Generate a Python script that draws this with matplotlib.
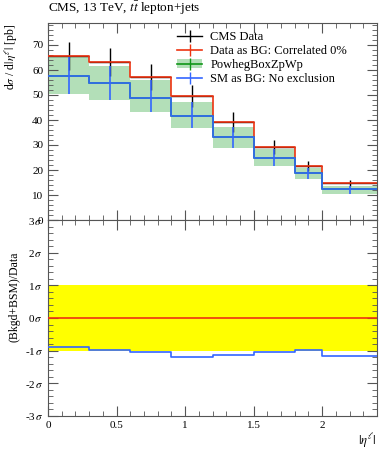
import numpy as np
import matplotlib
matplotlib.use("Agg")
import matplotlib.pyplot as plt
from matplotlib.ticker import MultipleLocator
from matplotlib.lines import Line2D
from matplotlib.patches import Patch

plt.rcParams['font.family'] = ['Liberation Serif', 'DejaVu Serif']
plt.rcParams['mathtext.fontset'] = 'stix'

# bin edges in |eta^l|
edges = [0.0, 0.3, 0.6, 0.9, 1.2, 1.5, 1.8, 2.0, 2.4]
# CMS data (= Data as BG)
data_vals = [65.6, 63.2, 57.2, 49.6, 39.2, 29.2, 21.6, 14.8]
data_errs = [5.6, 5.6, 5.2, 4.4, 4.0, 2.8, 2.0, 1.2]
# SM as BG / PowhegBoxZpWp central values and band
sm_vals = [57.6, 54.8, 48.8, 41.6, 33.2, 24.8, 18.8, 12.4]
band_hi = [65.2, 61.6, 56.0, 47.2, 37.2, 28.4, 20.8, 13.6]
band_lo = [50.4, 48.0, 43.2, 36.8, 28.8, 21.6, 16.4, 10.4]
# ratio panel (significance)
sig_sm = [-0.88, -0.98, -1.03, -1.18, -1.14, -1.03, -0.98, -1.15]
sig_data = [0, 0, 0, 0, 0, 0, 0, 0]
# tick labels
x_tick_vals = [0, 0.5, 1, 1.5, 2]
x_tick_labels = ['0', '0.5', '1', '1.5', '2']
sig_ticks = [-3, -2, -1, 0, 1, 2, 3]

edges = np.array(edges)
centers = 0.5 * (edges[1:] + edges[:-1])
halfw = 0.5 * (edges[1:] - edges[:-1])

def step(v):
    v = np.asarray(v, float)
    return np.append(v, v[-1])

RED = '#EE3311'
BLUE = '#3366FF'
GREEN = '#109618'
BAND = '#b3dfb8'

fig = plt.figure(figsize=(3.89, 4.5), dpi=100)
ax1 = fig.add_axes([48/389, 1-220/450, 329/389, 197/450])
ax2 = fig.add_axes([48/389, 1-416/450, 329/389, 196/450])

# top panel
ax1.fill_between(edges, step(band_lo), step(band_hi), step='post', color=BAND, lw=0, zorder=1)
ax1.errorbar(centers, data_vals, yerr=data_errs, xerr=halfw, fmt='none', ecolor='black', elinewidth=1.0, zorder=2)
ax1.step(edges, step(data_vals), where='post', color=RED, lw=1.2, zorder=3)
ax1.step(edges, step(sm_vals), where='post', color=GREEN, lw=1.2, zorder=3)
ax1.step(edges, step(sm_vals), where='post', color=BLUE, lw=1.2, zorder=4)
ax1.errorbar(centers, sm_vals, yerr=[np.array(sm_vals)-np.array(band_lo), np.array(band_hi)-np.array(sm_vals)],
             fmt='none', ecolor=BLUE, elinewidth=1.2, zorder=4)
ax1.set_xlim(0, 2.4)
ax1.set_ylim(0, 78.8)
ax1.yaxis.set_major_locator(MultipleLocator(10))
ax1.yaxis.set_minor_locator(MultipleLocator(2))
ax1.xaxis.set_major_locator(MultipleLocator(0.5))
ax1.xaxis.set_minor_locator(MultipleLocator(0.1))
ax1.set_xticklabels([])
ax1.set_ylabel(r'd$\sigma$ / d$|\eta^{\ell}|$ [pb]', fontsize=8.5, loc='top')
ax1.yaxis.set_label_coords(-0.085, 1.0)
ax1.text(0.0, 1.03, r'CMS, 13 TeV, $t\bar{t}$ lepton+jets', transform=ax1.transAxes, fontsize=9.5, ha='left', va='bottom')

handles = [
    Line2D([0], [0], color='black', lw=1.0, marker='|', markersize=9, markeredgewidth=1.0),
    Line2D([0], [0], color=RED, lw=1.2, marker='|', markersize=9, markeredgewidth=1.0),
    (Patch(color=BAND, lw=0), Line2D([0], [0], color=GREEN, lw=1.2, marker='|', markersize=9, markeredgewidth=1.0)),
    Line2D([0], [0], color=BLUE, lw=1.2, marker='|', markersize=9, markeredgewidth=1.0),
]
labels = ['CMS Data', 'Data as BG: Correlated 0%', 'PowhegBoxZpWp', 'SM as BG: No exclusion']
ax1.legend(handles, labels, loc='upper left', bbox_to_anchor=(0.385, 0.97), frameon=False, fontsize=9,
           handlelength=2.0, handletextpad=0.65, labelspacing=0.15, borderpad=0.2, borderaxespad=0.0)

# bottom panel
ax2.fill_between([0, 2.4], [-1, -1], [1, 1], color='#FFFF00', lw=0, zorder=1)
ax2.step(edges, step(sig_data), where='post', color=RED, lw=1.2, zorder=3)
ax2.step(edges, step(sig_sm), where='post', color=BLUE, lw=1.2, zorder=4)
ax2.set_xlim(0, 2.4)
ax2.set_ylim(-3, 3)
ax2.yaxis.set_minor_locator(MultipleLocator(0.2))
ax2.xaxis.set_minor_locator(MultipleLocator(0.1))
ax2.set_yticks(sig_ticks)
ax2.set_yticklabels([f'{k}' + r'$\,\sigma$' for k in sig_ticks])
ax2.set_xticks(x_tick_vals)
ax2.set_xticklabels(x_tick_labels)
ax2.set_ylabel('(Bkgd+BSM)/Data', fontsize=8.5)
ax2.yaxis.set_label_coords(-0.085, 0.61)
ax2.set_xlabel(r'$|\eta^{\ell}|$', fontsize=9, loc='right', labelpad=1)

for ax in (ax1, ax2):
    ax.tick_params(which='both', direction='in', top=True, right=True, labelsize=8, color='#555555')
    ax.tick_params(which='major', length=7)
    ax.tick_params(which='minor', length=3.5)
    for s in ax.spines.values():
        s.set_color('#555555')
        s.set_linewidth(0.8)

fig.savefig('out.png', dpi=100)
